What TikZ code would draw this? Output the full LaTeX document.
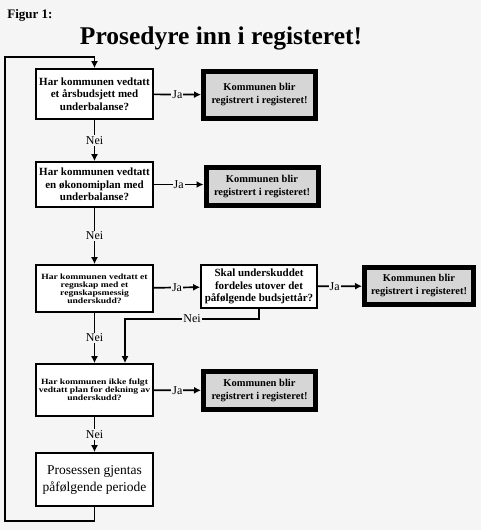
\documentclass[tikz,border=0pt]{standalone}
\usepackage{fontspec}
\setmainfont{Liberation Serif}
\newfontfamily\widefont[FakeStretch=1.2]{Liberation Serif}
\usetikzlibrary{arrows.meta}
\definecolor{bggray}{HTML}{F5F5F5}
\definecolor{resgray}{HTML}{D6D6D6}
\begin{document}
\begin{tikzpicture}[x=1pt, y=-1pt,
        box/.style={draw, line width=1.7pt, fill=white, minimum width=117pt, minimum height=50pt, inner sep=1pt, align=center, font=\bfseries\fontsize{11}{12.5}\selectfont},
        smallbox/.style={box, font=\widefont\bfseries\fontsize{8}{8}\selectfont},
        resbox/.style={draw, line width=5pt, fill=resgray, minimum width=112pt, minimum height=47pt, inner sep=1pt, align=center, font=\bfseries\fontsize{10.5}{13}\selectfont},
        lbl/.style={fill=bggray, inner sep=1pt, font=\fontsize{12}{13}\selectfont},
        arr/.style={line width=1.7pt, -{Latex[length=7pt,width=7pt]}}
    ]
        \fill[bggray] (0,0) rectangle (481,530);

        \node[font=\bfseries\fontsize{13}{15}\selectfont] (fig) at (30,15) {Figur 1:};
        \node[font=\bfseries\fontsize{25.5}{30}\selectfont] (title) at (221,38) {Prosedyre inn i registeret!};

        \node[box] (b1) at (94.5,94) {Har kommunen vedtatt\\ et årsbudsjett med\\ underbalanse?};
        \node[box, minimum height=45pt] (b2) at (94.5,184.5) {Har kommunen vedtatt\\ en økonomiplan med\\ underbalanse?};
        \node[smallbox, minimum height=47pt] (b3) at (94.5,288.5) {Har kommunen vedtatt et\\ regnskap med et\\ regnskapsmessig\\ underskudd?};
        \node[box, minimum width=116pt, minimum height=43pt] (b4) at (259,286.5) {Skal underskuddet\\ fordeles utover det\\ påfølgende budsjettår?};
        \node[smallbox, minimum height=52pt] (b5) at (94.5,390) {Har kommunen ikke fulgt\\ vedtatt plan for dekning av\\ underskudd?};
        \node[box, minimum height=53pt, font=\fontsize{13.5}{17}\selectfont] (b6) at (94.5,479.5) {Prosessen gjentas\\ påfølgende periode};

        \node[resbox] (r1) at (259.5,95) {Kommunen blir\\ registrert i registeret!};
        \node[resbox, minimum height=38pt] (r2) at (262,186.5) {Kommunen blir\\ registrert i registeret!};
        \node[resbox, minimum width=109pt, minimum height=37pt] (r3) at (419,286) {Kommunen blir\\ registrert i registeret!};
        \node[resbox, minimum height=38pt] (r4) at (259.5,390.5) {Kommunen blir\\ registrert i registeret!};

        % Ja
        \draw[arr] (b1) -- node[lbl] {Ja} (r1);
        \draw[arr] (b2) -- node[lbl] {Ja} (r2.west |- b2);
        \draw[arr] (b3) -- node[lbl] {Ja} (b4);
        \draw[arr] (b4) -- node[lbl, pos=0.38] {Ja} (r3);
        \draw[arr] (b5) -- node[lbl] {Ja} (r4);

        % Nei
        \draw[arr] (b1) -- node[lbl] {Nei} (b2);
        \draw[arr] (b2) -- node[lbl] {Nei} (b3);
        \draw[arr] (b3) -- node[lbl] {Nei} (b5);
        \draw[arr] (b5) -- node[lbl] {Nei} (b6);
        \coordinate (c1) at (125,319);
        \draw[arr] (b4.south) |- node[lbl, pos=0.75] {Nei} (c1) -- (c1 |- b5.north);

        % tilbake til start
        \coordinate (lb) at (5,521);
        \coordinate (lt) at (5,57);
        \draw[arr] (b6.south) |- (lb) -- (lt) -| (b1.north);
    \end{tikzpicture}
\end{document}
